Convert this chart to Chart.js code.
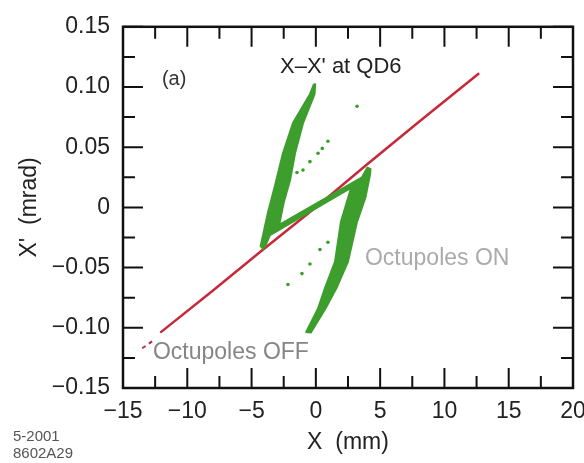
<!DOCTYPE html>
<html>
<head>
<meta charset="utf-8">
<script src="https://cdn.jsdelivr.net/npm/chart.js@4.4.1/dist/chart.umd.min.js"></script>
<style>
  html, body { margin: 0; padding: 0; background: #fff; }
  #wrap { position: relative; width: 584px; height: 463px; }
  #note { position: absolute; left: 13px; top: 427px; font: 15px/17px "Liberation Sans", Arial, sans-serif; color: #555; }
</style>
</head>
<body>
<div id="wrap">
  <canvas id="chart" width="584" height="463"></canvas>
  <div id="note">5-2001<br>8602A29</div>
</div>
<script>
'use strict';

// ── Data ──────────────────────────────────────────────────────────────────────

const xTicks      = [-15, -10, -5, 0, 5, 10, 15, 20];
const xTickLabels = ['−15', '−10', '−5', '0', '5', '10', '15', '20'];
const xMinorTicks = [-12.5, -7.5, -2.5, 2.5, 7.5, 12.5, 17.5];
const yTicks      = [-0.15, -0.10, -0.05, 0, 0.05, 0.10, 0.15];
const yTickLabels = ['−0.15', '−0.10', '−0.05', '0', '0.05', '0.10', '0.15'];
const yMinorTicks = [-0.125, -0.075, -0.025, 0.025, 0.075, 0.125];

// Octupoles OFF: thin straight red band
const offTailX = [-13.5, -12.7];
const offTailY = [-0.117, -0.111];
const offX     = [-12.1, -8.0, -4.1, 0.1, 3.9, 8.0, 12.7];
const offY     = [-0.104, -0.069, -0.035, 0.001, 0.035, 0.071, 0.1115];

// Octupoles ON: outline of the dense green S-shaped band
const onEdgeX = [-0.05, -0.1, -1.0, -1.62, -2.0, -2.5, -2.85,
                 3.59, 4.0, 4.25, 4.21,
                 3.85, 3.2, 2.5, 1.6, 0.75, -0.4, -0.75,
                 0.17, 0.71, 1.49, 1.95, 2.4, 2.75,
                 -3.57, -3.9, -4.1, -4.3, -4.19,
                 -3.72, -3.18, -2.56, -1.78, -0.46, -0.14];
const onEdgeY = [0.103, 0.094, 0.070, 0.045, 0.023, 0.004, -0.0145,
                 0.025, 0.033, 0.032, 0.027,
                 0.008, -0.012, -0.045, -0.067, -0.084, -0.104, -0.1035,
                 -0.084, -0.067, -0.045, -0.012, 0.004, 0.0165,
                 -0.023, -0.031, -0.0345, -0.032, -0.027,
                 -0.004, 0.018, 0.045, 0.070, 0.094, 0.1025];

// Octupoles ON: stray particles outside the dense band
const onDotsX = [0.94, 0.5, 0.17, -0.46, -1.0, -1.47, 3.2,
                 -2.17, -1.08, -0.46, 0.32, 0.94];
const onDotsY = [0.055, 0.049, 0.045, 0.038, 0.031, 0.029, 0.084,
                 -0.064, -0.055, -0.047, -0.035, -0.029];

// Text placed in data coordinates
const notes = [
  { text: '(a)',            x: -11.97, y: 0.1066,  color: '#333', size: 20 },
  { text: 'X–X\' at QD6',   x: -2.79,  y: 0.1164,  color: '#222', size: 22 },
  { text: 'Octupoles ON',   x: 3.82,   y: -0.0426, color: '#aaa', size: 23 },
  { text: 'Octupoles OFF',  x: -12.67, y: -0.1205, color: '#858585', size: 23 },
];

// ── Helpers ───────────────────────────────────────────────────────────────────

const FONT  = '"Liberation Sans", Arial, sans-serif';
const GREEN = '#3d9e2d';
const RED   = '#c62a3a';

const pts = (xs, ys) => xs.map((x, i) => ({ x, y: ys[i] }));

// ── Frame + inward ticks on all four sides ────────────────────────────────────

const frameTicks = {
  id: 'frameTicks',
  afterDatasetsDraw(chart) {
    const { ctx, chartArea: a, scales: { x, y } } = chart;
    ctx.save();
    ctx.strokeStyle = '#111';
    ctx.lineWidth = 2;
    const vTick = (vals, len) => vals.forEach(v => {
      const px = x.getPixelForValue(v);
      ctx.beginPath();
      ctx.moveTo(px, a.bottom); ctx.lineTo(px, a.bottom - len);
      ctx.moveTo(px, a.top);    ctx.lineTo(px, a.top + len);
      ctx.stroke();
    });
    const hTick = (vals, len) => vals.forEach(v => {
      const py = y.getPixelForValue(v);
      ctx.beginPath();
      ctx.moveTo(a.left, py);  ctx.lineTo(a.left + len, py);
      ctx.moveTo(a.right, py); ctx.lineTo(a.right - len, py);
      ctx.stroke();
    });
    vTick(xTicks, 20);
    vTick(xMinorTicks, 12);
    hTick(yTicks, 20);
    hTick(yMinorTicks, 12);
    ctx.lineWidth = 2.5;
    ctx.strokeRect(a.left, a.top, a.width, a.height);
    ctx.restore();
  },
  afterDraw(chart) {
    const { ctx, scales: { x, y } } = chart;
    ctx.save();
    ctx.textBaseline = 'middle';
    ctx.textAlign = 'left';
    notes.forEach(n => {
      ctx.fillStyle = n.color;
      ctx.font = `${n.size}px ${FONT}`;
      ctx.fillText(n.text, x.getPixelForValue(n.x), y.getPixelForValue(n.y));
    });
    ctx.restore();
  },
};

// ── Chart ─────────────────────────────────────────────────────────────────────

new Chart(document.getElementById('chart'), {
  type: 'scatter',
  data: {
    datasets: [
      {
        data: pts(onDotsX, onDotsY),
        pointRadius: 1.8,
        pointBorderWidth: 0,
        backgroundColor: GREEN,
      },
      {
        data: pts(onEdgeX, onEdgeY),
        showLine: true,
        fill: 'shape',
        tension: 0,
        pointRadius: 0,
        borderWidth: 2,
        borderJoinStyle: 'round',
        borderColor: GREEN,
        backgroundColor: GREEN,
      },
      {
        data: pts(offX, offY),
        showLine: true,
        pointRadius: 0,
        borderWidth: 2.5,
        borderColor: RED,
      },
      {
        data: pts(offTailX, offTailY),
        showLine: true,
        pointRadius: 0,
        borderWidth: 2,
        borderDash: [4, 4],
        borderColor: RED,
      },
    ],
  },
  options: {
    responsive: false,
    animation: false,
    events: [],
    layout: { padding: { top: 22, right: 11, left: 0, bottom: 0 } },
    plugins: { legend: { display: false }, tooltip: { enabled: false } },
    scales: {
      x: {
        type: 'linear',
        min: -15,
        max: 20,
        grid: { display: false, drawTicks: false },
        border: { display: false },
        afterBuildTicks: s => { s.ticks = xTicks.map(v => ({ value: v })); },
        afterFit: s => { s.height = 75; s.paddingLeft = 0; s.paddingRight = 0; },
        ticks: {
          autoSkip: false,
          maxRotation: 0,
          padding: 10,
          color: '#222',
          font: { family: FONT, size: 23 },
          callback: v => xTickLabels[xTicks.indexOf(v)],
        },
        title: {
          display: true,
          text: 'X  (mm)',
          color: '#222',
          font: { family: FONT, size: 23 },
          padding: { top: 7, bottom: 7 },
        },
      },
      y: {
        type: 'linear',
        min: -0.15,
        max: 0.15,
        grid: { display: false, drawTicks: false },
        border: { display: false },
        afterBuildTicks: s => { s.ticks = yTicks.map(v => ({ value: v })); },
        afterFit: s => { s.width = 123; },
        ticks: {
          autoSkip: false,
          padding: 13,
          color: '#222',
          font: { family: FONT, size: 23 },
          callback: v => yTickLabels[yTicks.findIndex(t => Math.abs(t - v) < 1e-9)],
        },
        title: {
          display: true,
          text: 'X\'  (mrad)',
          color: '#222',
          font: { family: FONT, size: 23 },
          padding: { top: 16, bottom: 16 },
        },
      },
    },
  },
  plugins: [frameTicks],
});
</script>
</body>
</html>
